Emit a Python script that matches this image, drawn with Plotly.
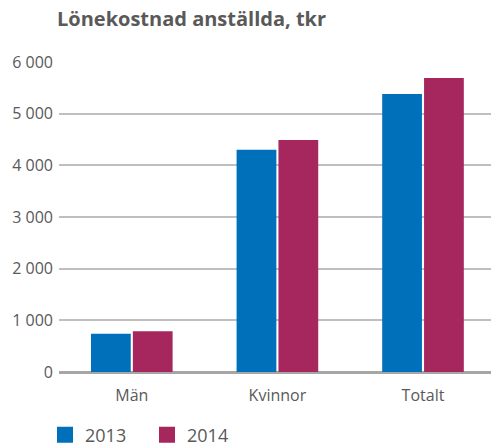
import plotly.graph_objects as go

categories = ["Män", "Kvinnor", "Totalt"]
values_2013 = [740, 4300, 5380]
values_2014 = [790, 4490, 5690]
series_names = ["2013", "2014"]
tick_vals = [0, 1000, 2000, 3000, 4000, 5000, 6000]
tick_text = ["0", "1 000", "2 000", "3 000", "4 000", "5 000", "6 000"]

BLUE = "#0070BA"
MAGENTA = "#A6275E"
GRAY = "#595959"
FONT = "Open Sans"

W, H = 491, 446

fig = go.Figure()
fig.add_trace(go.Bar(x=categories, y=values_2013, name=series_names[0],
                     marker=dict(color=BLUE, line=dict(width=0)), showlegend=False))
fig.add_trace(go.Bar(x=categories, y=values_2014, name=series_names[1],
                     marker=dict(color=MAGENTA, line=dict(width=0)), showlegend=False))
# legend proxies (larger square swatches)
for name, col in zip(series_names, [BLUE, MAGENTA]):
    fig.add_trace(go.Scatter(x=[None], y=[None], mode="markers", name=name,
                             marker=dict(symbol="square", size=16, color=col)))

fig.update_layout(
    width=W, height=H,
    margin=dict(l=59, r=0, t=62, b=74, autoexpand=False),
    paper_bgcolor="white", plot_bgcolor="white",
    barmode="group", bargap=0.425, bargroupgap=0.05,
    font=dict(family=FONT, color=GRAY, size=16),
    title=dict(text="<b>Lönekostnad anställda, tkr</b>", x=57/W, xanchor="left",
               y=1 - 19/H, yanchor="middle",
               font=dict(family=FONT, size=20, color=GRAY)),
    xaxis=dict(type="category", range=[-0.5, 2.467], showgrid=False,
               showline=False, zeroline=False, ticks="", automargin=False,
               tickfont=dict(size=16, color=GRAY), ticklabelstandoff=12),
    yaxis=dict(range=[0, 6000], tickvals=tick_vals, ticktext=tick_text,
               showgrid=True, gridcolor="#BFBFBF", gridwidth=2, automargin=False,
               zeroline=True, zerolinecolor="#A6A6A6", zerolinewidth=3,
               showline=False, ticks="", tickfont=dict(size=16, color=GRAY),
               ticklabelstandoff=5),
    legend=dict(orientation="h", xref="container", x=45/W, xanchor="left",
                yref="container", y=1 - 435/H, yanchor="middle",
                font=dict(family=FONT, size=18, color=GRAY),
                itemsizing="trace", traceorder="normal",
                entrywidth=57, entrywidthmode="pixels"),
)

fig.write_html("out.html",
               config={"displayModeBar": False},
               post_script="document.body.style.margin='0';document.body.style.overflow='hidden';")
